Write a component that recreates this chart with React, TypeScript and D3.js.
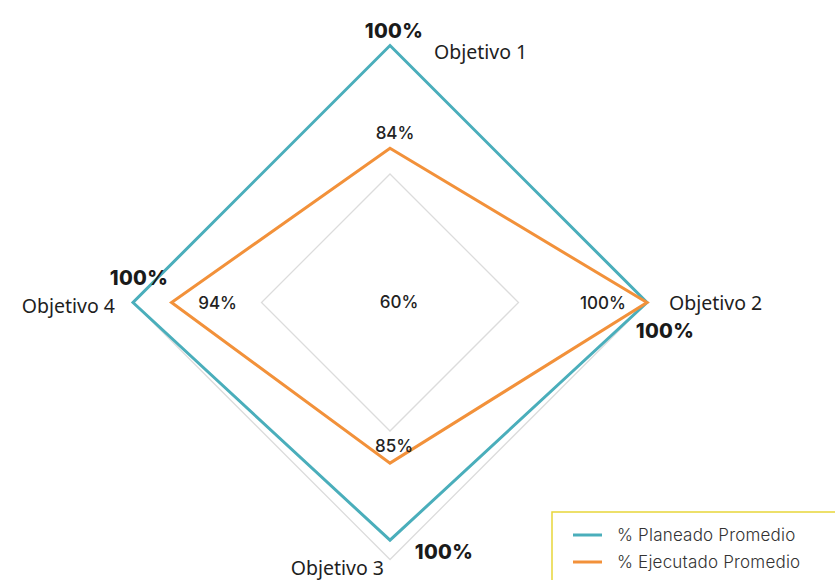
import React, { useEffect, useRef } from 'react';
import * as d3 from 'd3';

// chart values
const objectives = ['Objetivo 1', 'Objetivo 2', 'Objetivo 3', 'Objetivo 4'];
const planned = [1, 1, 0.97, 1];
const plannedLabels = ['100%', '100%', '100%', '100%'];
const executed = [0.84, 1, 0.85, 0.94];
const executedLabels = ['84%', '100%', '85%', '94%'];
const gridLevels = [0.8, 1];
const centerLabel = '60%';
const seriesNames = ['% Planeado Promedio', '% Ejecutado Promedio'];

const TEAL = '#4aaebb';
const ORANGE = '#f2913a';

const RadarChart = () => {
  const svgRef = useRef(null);

  useEffect(() => {
    const svg = d3.select(svgRef.current);
    const cx = 390;
    const cy = 302.5;
    const R = 257;

    const r = d3.scaleLinear().domain([0.6, 1]).range([0, R]);
    const angle = d3
      .scaleLinear()
      .domain([0, objectives.length])
      .range([0, 2 * Math.PI]);

    const px = (i, v) => cx + r(v) * Math.sin(angle(i));
    const py = (i, v) => cy - r(v) * Math.cos(angle(i));

    const radial = d3
      .lineRadial()
      .angle((d, i) => angle(i))
      .radius((d) => r(d))
      .curve(d3.curveLinearClosed);

    const g = svg.append('g').attr('transform', `translate(${cx},${cy})`);

    // grid diamonds
    g.selectAll('.grid')
      .data(gridLevels)
      .enter()
      .append('path')
      .attr('d', (lv) => radial(objectives.map(() => lv)))
      .attr('fill', 'none')
      .attr('stroke', '#dcdcdc')
      .attr('stroke-width', 1.3);

    // series
    [
      { values: planned, color: TEAL },
      { values: executed, color: ORANGE },
    ].forEach((s) => {
      g.append('path')
        .attr('d', radial(s.values))
        .attr('fill', 'none')
        .attr('stroke', s.color)
        .attr('stroke-width', 3)
        .attr('stroke-linejoin', 'miter');
    });

    // axis titles
    const titleOffsets = [
      { dx: 44, dy: 13, anchor: 'start' },
      { dx: 22, dy: 7, anchor: 'start' },
      { dx: -6, dy: 15, anchor: 'end' },
      { dx: -18, dy: 10, anchor: 'end' },
    ];
    svg
      .selectAll('.axis-title')
      .data(objectives)
      .enter()
      .append('text')
      .attr('x', (d, i) => px(i, 1) + titleOffsets[i].dx)
      .attr('y', (d, i) => py(i, 1) + titleOffsets[i].dy)
      .attr('text-anchor', (d, i) => titleOffsets[i].anchor)
      .attr('font-family', '"Noto Sans", sans-serif')
      .attr('font-weight', 400)
      .attr('font-size', 19.5)
      .attr('fill', '#1e1e1e')
      .text((d) => d);

    // planned labels (bold)
    const planOffsets = [
      { dx: 4, dy: -8 },
      { dx: 18, dy: 35 },
      { dx: 54, dy: 19 },
      { dx: 6, dy: -18 },
    ];
    svg
      .selectAll('.plan-label')
      .data(plannedLabels)
      .enter()
      .append('text')
      .attr('x', (d, i) => px(i, planned[i]) + planOffsets[i].dx)
      .attr('y', (d, i) => py(i, planned[i]) + planOffsets[i].dy)
      .attr('text-anchor', 'middle')
      .attr('font-family', 'Inter, sans-serif')
      .attr('font-weight', 800)
      .attr('font-size', 20)
      .attr('letter-spacing', 0.3)
      .attr('fill', '#1a1a1a')
      .text((d) => d);

    // executed labels
    const execOffsets = [
      { dx: 5, dy: -9 },
      { dx: -44, dy: 6 },
      { dx: 4, dy: -11 },
      { dx: 46, dy: 6 },
    ];
    svg
      .selectAll('.exec-label')
      .data(executedLabels)
      .enter()
      .append('text')
      .attr('x', (d, i) => px(i, executed[i]) + execOffsets[i].dx)
      .attr('y', (d, i) => py(i, executed[i]) + execOffsets[i].dy)
      .attr('text-anchor', 'middle')
      .attr('font-family', 'Inter, sans-serif')
      .attr('font-weight', 500)
      .attr('font-size', 17)
      .attr('fill', '#222')
      .text((d) => d);

    svg
      .append('text')
      .attr('x', cx + 9)
      .attr('y', cy + 5)
      .attr('text-anchor', 'middle')
      .attr('font-family', 'Inter, sans-serif')
      .attr('font-weight', 500)
      .attr('font-size', 17)
      .attr('fill', '#222')
      .text(centerLabel);

    // legend
    const legend = svg.append('g').attr('transform', 'translate(552,512)');
    legend
      .append('rect')
      .attr('width', 300)
      .attr('height', 90)
      .attr('fill', 'white')
      .attr('stroke', '#e8d63a')
      .attr('stroke-width', 1.5);
    legend
      .selectAll('.item')
      .data(seriesNames)
      .enter()
      .append('g')
      .attr('transform', (d, i) => `translate(0,${23 + i * 27})`)
      .each(function (d, i) {
        const item = d3.select(this);
        item
          .append('line')
          .attr('x1', 21)
          .attr('x2', 50)
          .attr('stroke', i === 0 ? TEAL : ORANGE)
          .attr('stroke-width', 3);
        item
          .append('text')
          .attr('x', 65)
          .attr('y', 6)
          .attr('font-family', 'Inter, sans-serif')
          .attr('font-weight', 300)
          .attr('font-size', 17)
          .attr('letter-spacing', 0.2)
          .attr('fill', '#333')
          .text(d);
      });

    return () => {
      svg.selectAll('*').remove();
    };
  }, []);

  return (
    <svg
      ref={svgRef}
      width={835}
      height={580}
      style={{ position: 'absolute', left: 0, top: 0, background: 'white' }}
    ></svg>
  );
};

export default function App() {
  return <RadarChart />;
}
